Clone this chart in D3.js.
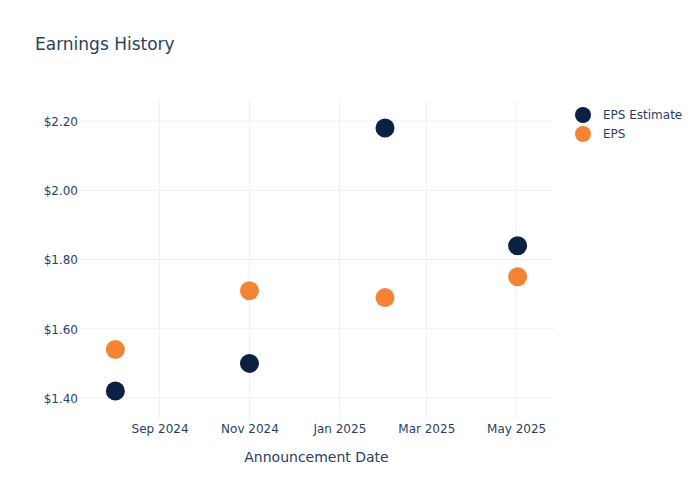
<!DOCTYPE html>
<html><head><meta charset="utf-8">
<script src="https://cdn.jsdelivr.net/npm/d3@7"></script>
<style>body{margin:0;background:#fff;} text{font-family:"DejaVu Sans",sans-serif;}</style>
</head><body>
<svg id="chart" width="700" height="500"></svg>
<script>
const dates = ["2024-08-02", "2024-11-01", "2025-02-01", "2025-05-02"];
const epsEstimate = [1.42, 1.50, 2.18, 1.84];
const eps = [1.54, 1.71, 1.69, 1.75];
const yTicks = [1.40, 1.60, 1.80, 2.00, 2.20];
const xTicks = ["2024-09-01", "2024-11-01", "2025-01-01", "2025-03-01", "2025-05-01"];
const seriesNames = ["EPS Estimate", "EPS"];
const colors = ["#0c2043", "#f58335"];

const parse = d3.timeParse("%Y-%m-%d");
const svg = d3.select("#chart");
const L = 80, R = 553, T = 100, B = 420;
const x = d3.scaleTime().domain([parse("2024-07-09"), parse("2025-05-26")]).range([L, R]);
const y = d3.scaleLinear().domain([1.3365, 2.2607]).range([B, T]);
const textColor = "#2a3f5f", gridColor = "#ebf0f8";

// grid
svg.append("g").selectAll("line").data(yTicks).join("line")
  .attr("x1", L).attr("x2", R).attr("y1", d => y(d)).attr("y2", d => y(d))
  .attr("stroke", gridColor).attr("stroke-width", 1);
svg.append("g").selectAll("line").data(xTicks).join("line")
  .attr("x1", d => x(parse(d))).attr("x2", d => x(parse(d))).attr("y1", T).attr("y2", B)
  .attr("stroke", gridColor).attr("stroke-width", 1);

// axes
const yAxis = d3.axisLeft(y).tickValues(yTicks).tickFormat(d => "$" + d3.format(".2f")(d)).tickSize(0).tickPadding(2);
const gy = svg.append("g").attr("transform", `translate(${L},0.5)`).call(yAxis);
gy.select(".domain").remove();
gy.selectAll("text").attr("fill", textColor).attr("font-size", 12).attr("font-family", "DejaVu Sans");

const xAxis = d3.axisBottom(x).tickValues(xTicks.map(parse)).tickFormat(d3.timeFormat("%b %Y")).tickSize(0).tickPadding(4);
const gx = svg.append("g").attr("transform", `translate(0,${B})`).call(xAxis);
gx.select(".domain").remove();
gx.selectAll("text").attr("fill", textColor).attr("font-size", 12).attr("font-family", "DejaVu Sans");

// points
const series = [epsEstimate, eps];
series.forEach((vals, i) => {
  svg.append("g").selectAll("circle").data(vals).join("circle")
    .attr("cx", (d, j) => x(parse(dates[j]))).attr("cy", d => y(d)).attr("r", 9.5)
    .attr("fill", colors[i]);
});

// title
svg.append("text").attr("x", 35).attr("y", 50).attr("fill", textColor).attr("font-size", 17).text("Earnings History");
svg.append("text").attr("x", (L + R) / 2).attr("y", 462).attr("text-anchor", "middle").attr("fill", textColor).attr("font-size", 14).text("Announcement Date");

// legend
const lg = svg.append("g");
seriesNames.forEach((n, i) => {
  lg.append("circle").attr("cx", 583).attr("cy", 115 + i * 19).attr("r", 8).attr("fill", colors[i]);
  lg.append("text").attr("x", 603).attr("y", 119 + i * 19).attr("fill", textColor).attr("font-size", 12).text(n);
});
</script>
</body></html>
